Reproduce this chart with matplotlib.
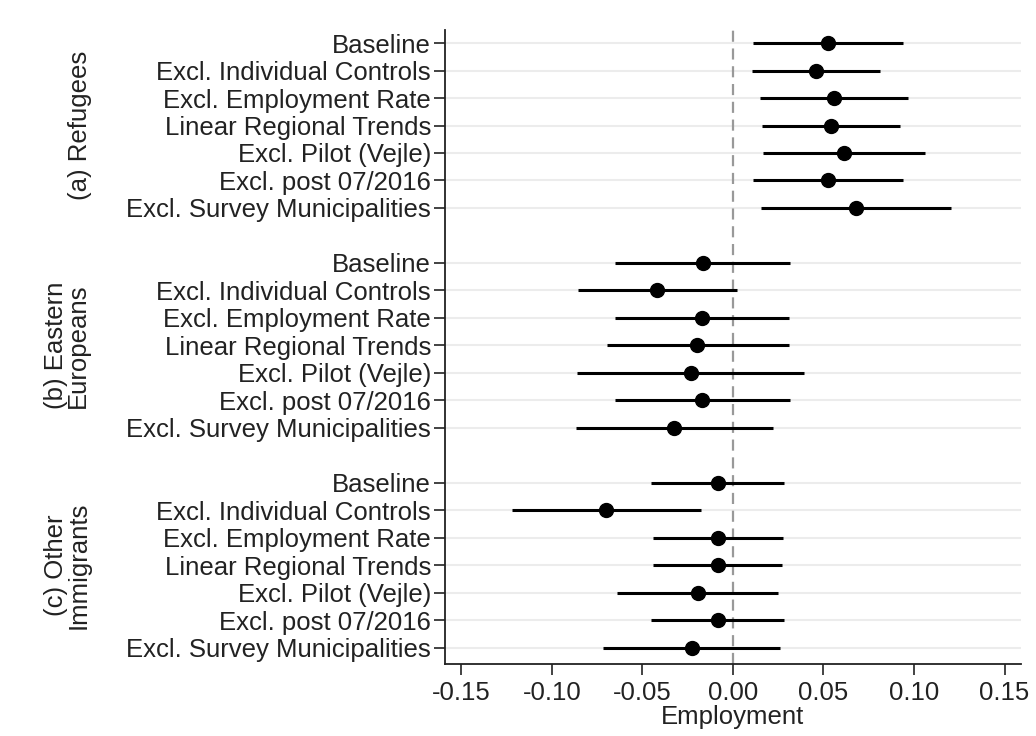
import matplotlib
matplotlib.use('Agg')
import matplotlib.pyplot as plt
import matplotlib.transforms as mtransforms

plt.rcParams['font.family'] = ['Liberation Sans', 'DejaVu Sans']

# specification labels (same within each group)
specs = ["Baseline", "Excl. Individual Controls", "Excl. Employment Rate",
         "Linear Regional Trends", "Excl. Pilot (Vejle)", "Excl. post 07/2016",
         "Excl. Survey Municipalities"]

groups = ["(a) Refugees", "(b) Eastern\nEuropeans", "(c) Other\nImmigrants"]

# point estimates and 95% CI for each group
refugees_est = [0.0527, 0.0457, 0.0560, 0.0539, 0.0611, 0.0525, 0.0681]
refugees_lo = [0.0113, 0.0106, 0.0150, 0.0159, 0.0167, 0.0113, 0.0156]
refugees_hi = [0.0939, 0.0810, 0.0968, 0.0920, 0.1060, 0.0939, 0.1207]

eastern_est = [-0.0168, -0.0418, -0.0170, -0.0196, -0.0234, -0.0170, -0.0323]
eastern_lo = [-0.0653, -0.0856, -0.0650, -0.0698, -0.0862, -0.0653, -0.0865]
eastern_hi = [0.0313, 0.0021, 0.0310, 0.0308, 0.0393, 0.0313, 0.0220]

other_est = [-0.0084, -0.0699, -0.0082, -0.0082, -0.0194, -0.0084, -0.0229]
other_lo = [-0.0451, -0.1222, -0.0444, -0.0440, -0.0641, -0.0451, -0.0718]
other_hi = [0.0280, -0.0178, 0.0279, 0.0273, 0.0249, 0.0280, 0.0258]

xticks = [-0.15, -0.10, -0.05, 0.00, 0.05, 0.10, 0.15]

FS = 18.5

fig = plt.figure(figsize=(10.36, 7.36), dpi=100)
ax = fig.add_axes([0.4295, 0.0978, 0.556, 0.8612])

all_est = [refugees_est, eastern_est, other_est]
all_lo = [refugees_lo, eastern_lo, other_lo]
all_hi = [refugees_hi, eastern_hi, other_hi]

ypos = []
ylabels = []
label_x = [80 / 1036, 67 / 1036, 67 / 1036]
trans = mtransforms.blended_transform_factory(fig.transFigure, ax.transData)

for g in range(3):
    rows = [g * 8 + i for i in range(len(specs))]
    # light horizontal grid lines
    for r in rows:
        ax.axhline(r, color='#ececec', lw=1.5, zorder=0)
    ax.hlines(rows, all_lo[g], all_hi[g], color='black', lw=2.2, zorder=2)
    ax.plot(all_est[g], rows, 'o', color='black', ms=10, zorder=3)
    ypos += rows
    ylabels += specs
    ax.text(label_x[g], rows[3], groups[g], rotation=90, ha='center', va='center',
            fontsize=FS, linespacing=0.92, multialignment='center',
            color='#222222', transform=trans)

ax.axvline(0, color='#999999', lw=1.6, ls=(0, (5, 3)), zorder=1)

ax.set_yticks(ypos)
ax.set_yticklabels(ylabels, fontsize=FS, color='#222222')
ax.set_ylim(22.6, -0.47)

ax.set_xticks(xticks)
ax.set_xticklabels(["%.2f" % t for t in xticks], fontsize=FS, color='#222222')
ax.set_xlim(-0.1591, 0.1591)
ax.set_xlabel("Employment", fontsize=FS, labelpad=0, color='#222222')

ax.spines['top'].set_visible(False)
ax.spines['right'].set_visible(False)
for s in ['left', 'bottom']:
    ax.spines[s].set_color('#222222')
    ax.spines[s].set_linewidth(1.3)
ax.tick_params(axis='y', length=8, width=1.2, color='#222222', pad=2)
ax.tick_params(axis='x', length=8, width=1.2, color='#222222', pad=4)

fig.savefig('out.png', dpi=100)
